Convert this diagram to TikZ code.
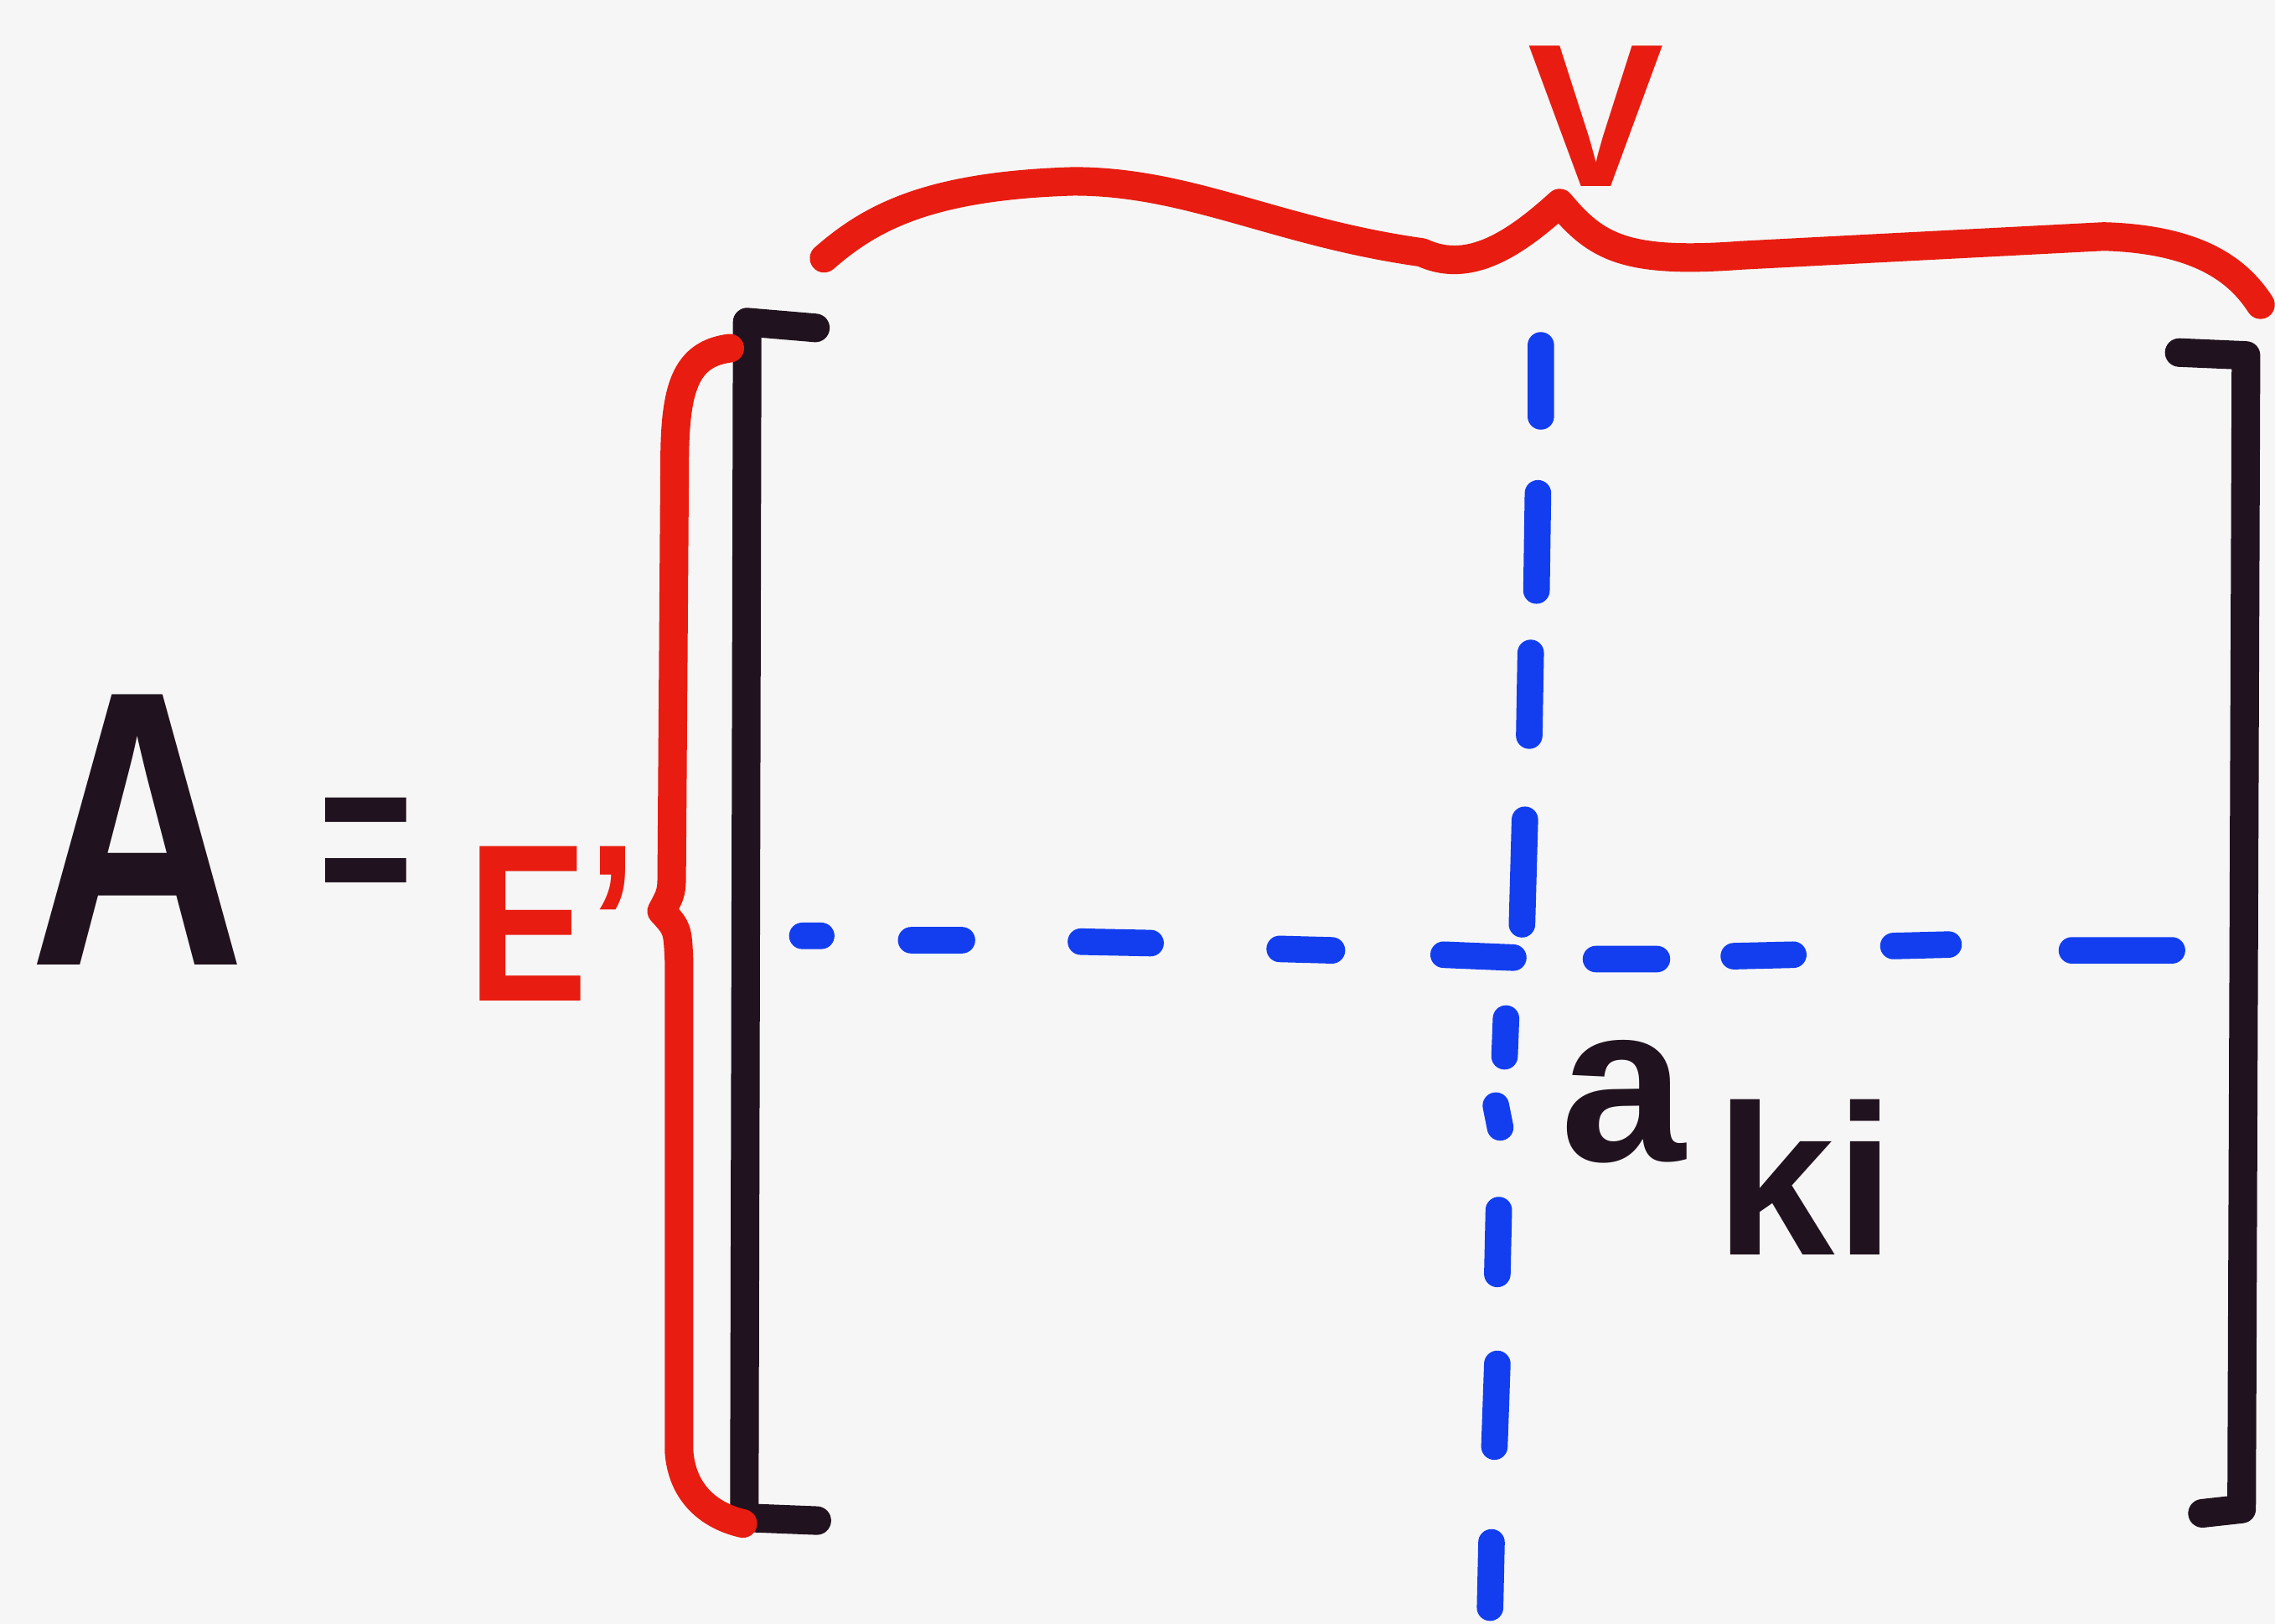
\documentclass[tikz,border=0pt]{standalone}
\usepackage{fontspec}
\setmainfont{Liberation Sans}
\definecolor{mred}{RGB}{232,28,16}
\definecolor{mblack}{RGB}{32,18,30}
\definecolor{mblue}{RGB}{18,62,240}
\definecolor{paper}{RGB}{246,246,246}
\begin{document}
\begin{tikzpicture}[x=0.01cm,y=-0.01cm,
  blk/.style={draw=mblack,line width=5.6pt,line cap=round,line join=round},
  rd/.style={draw=mred,line width=5.6pt,line cap=round,line join=round},
  bl/.style={draw=mblue,line width=5.2pt,line cap=round},
  txt/.style={inner sep=0,font=\bfseries}]
\fill[paper] (0,0) rectangle (1568,1119);
\useasboundingbox (0,0) rectangle (1568,1119);
% text
\node[txt,text=mblack,font=\fontsize{77}{80}\selectfont\bfseries,anchor=base] (A) at (95,665) {\scalebox{0.76}[1]{A}};
\node[txt,text=mblack,font=\fontsize{44}{46}\selectfont\bfseries] (eq) at (252,590) {\scalebox{0.72}[1]{=}};
\node[txt,text=mred,font=\fontsize{44}{46}\selectfont\bfseries,anchor=base west] (E) at (322,690) {\scalebox{0.8}[1]{E'}};
\node[txt,text=mred,font=\fontsize{40}{42}\selectfont\bfseries] (V) at (1100,80) {V};
\node[txt,text=mblack,font=\fontsize{44}{46}\selectfont\bfseries,anchor=base west] (a) at (1075,800) {a};
\node[txt,text=mblack,font=\fontsize{42}{44}\selectfont\bfseries,anchor=base west] (ki) at (1182,865) {ki};
% black brackets
\draw[blk] (562,226) -- (515,222) -- (513,1046) -- (563,1048);
\draw[blk] (1502,243) -- (1548,245) -- (1545,1040) -- (1518,1043);
% red left brace
\draw[rd] (503,240) .. controls (472,244) and (465,268) .. (465,320)
  -- (463,598) .. controls (463,615) .. (456,628)
  .. controls (467,640) .. (468,662) -- (468,1000)
  .. controls (470,1030) and (490,1045) .. (512,1050);
% red top brace
\draw[rd] (568,178) .. controls (600,150) and (640,128) .. (740,125)
  .. controls (820,125) and (880,160) .. (980,174)
  .. controls (1010,188) and (1040,172) .. (1075,140)
  .. controls (1100,170) and (1120,182) .. (1200,176)
  -- (1450,163) .. controls (1520,165) and (1545,190) .. (1558,210);
% blue dashed lines (hand-drawn dashes)
\draw[bl] (553,645) -- (566,645)
  (628,648) -- (663,648)
  (745,649) -- (793,650)
  (882,654) -- (918,655)
  (995,658) -- (1043,660)
  (1100,661) -- (1142,661)
  (1195,659) -- (1236,658)
  (1305,652) -- (1343,651)
  (1428,655) -- (1497,655);
\draw[bl] (1062,238) -- (1062,287)
  (1060,340) -- (1059,407)
  (1055,450) -- (1054,507)
  (1051,565) -- (1049,637)
  (1038,702) -- (1037,728)
  (1031,762) -- (1034,777)
  (1033,834) -- (1032,878)
  (1032,940) -- (1030,997)
  (1028,1063) -- (1027,1108);
\end{tikzpicture}
\end{document}
